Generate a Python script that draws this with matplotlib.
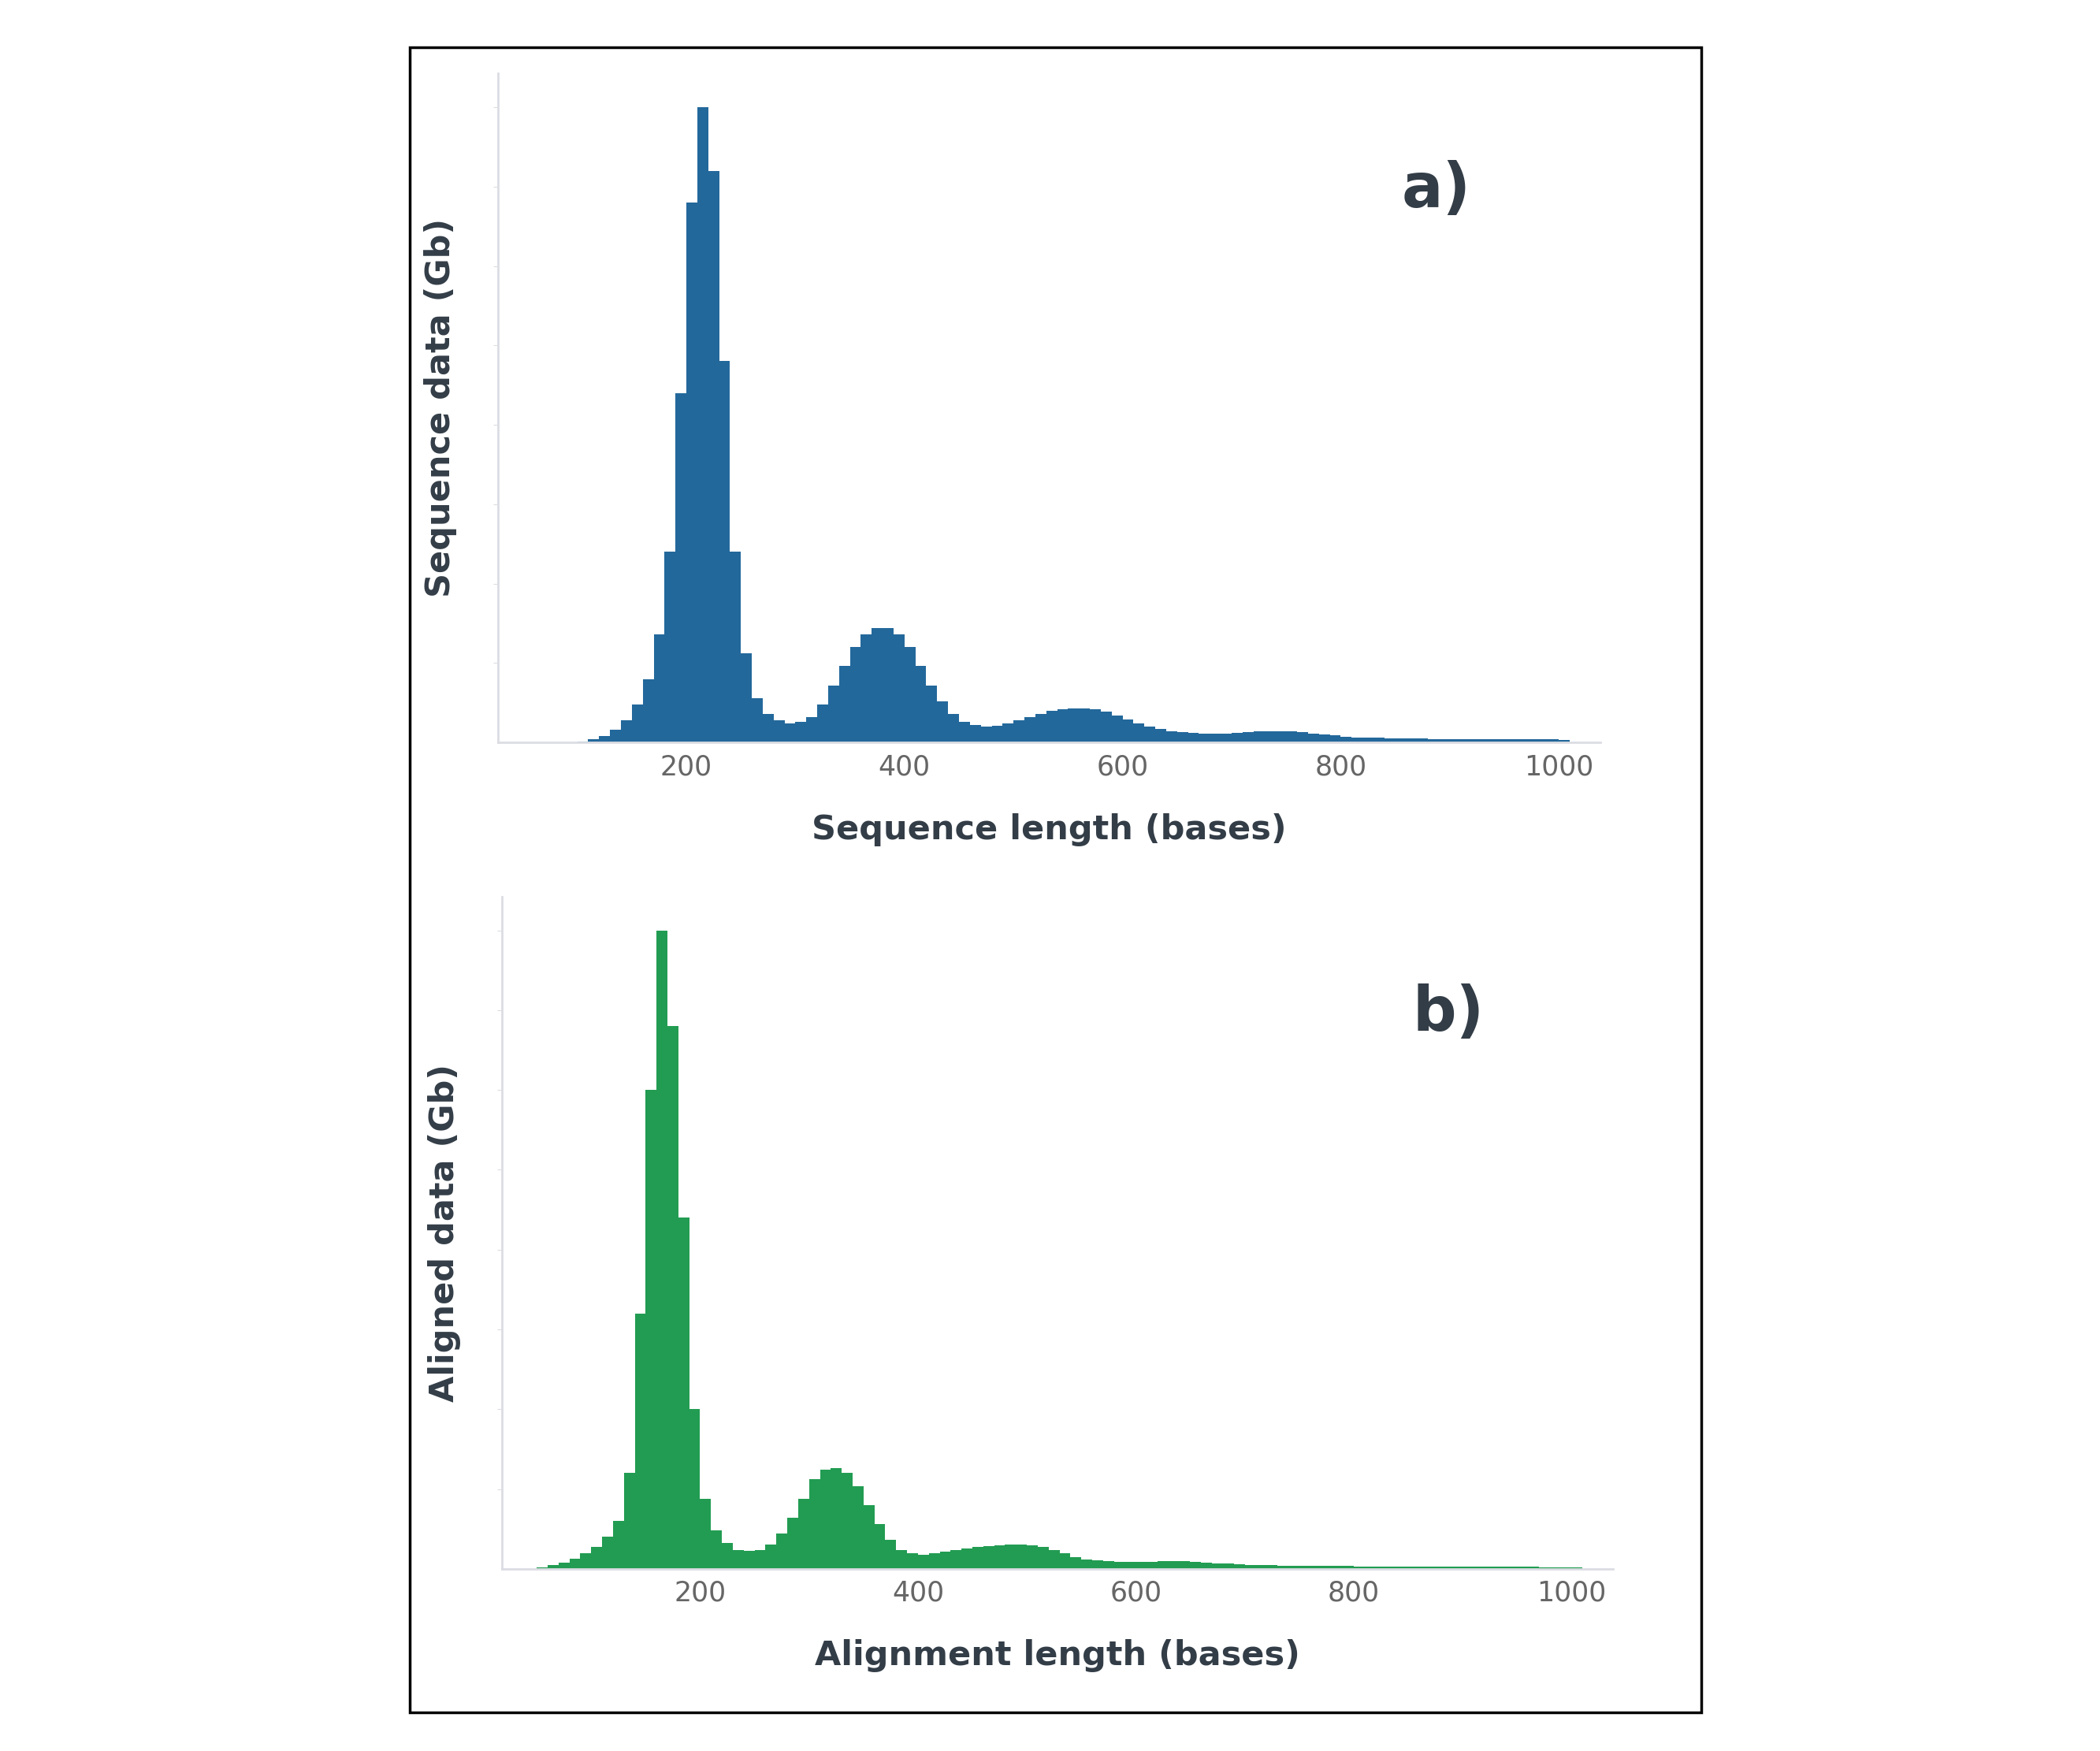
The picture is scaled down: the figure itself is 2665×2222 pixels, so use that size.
import matplotlib
matplotlib.use("Agg")
import matplotlib.pyplot as plt
import numpy as np
from matplotlib.patches import Rectangle

# Panel a: sequence length (bases), relative Gb, bins of 10 starting at 60
seq_start = 60
seq_vals = [0,0,0,0,0.002,0.005,0.01,0.02,0.035,0.06,0.10,0.17,0.30,0.55,0.85,1.0,0.9,0.6,0.3,0.14,
            0.07,0.045,0.035,0.03,0.032,0.04,0.06,0.09,0.12,0.15,0.17,0.18,0.18,0.17,0.15,0.12,0.09,0.065,0.045,0.033,
            0.027,0.025,0.026,0.03,0.035,0.04,0.045,0.05,0.052,0.053,0.053,0.052,0.048,0.042,0.036,0.03,0.025,0.021,0.018,0.016,
            0.015,0.014,0.014,0.014,0.015,0.016,0.017,0.018,0.018,0.017,0.016,0.014,0.012,0.011,0.009,0.008,0.007,0.007,0.006,0.006,
            0.006,0.006,0.005,0.005,0.005,0.005,0.005,0.005,0.005,0.005,0.005,0.005,0.005,0.005,0.004]
# Panel b: alignment length (bases), bins of 10 starting at 50
aln_start = 50
aln_vals = [0.002,0.006,0.01,0.016,0.024,0.035,0.05,0.075,0.15,0.4,0.75,1.0,0.85,0.55,0.25,0.11,0.06,0.04,0.03,0.028,
            0.03,0.038,0.055,0.08,0.11,0.14,0.155,0.158,0.15,0.13,0.1,0.07,0.045,0.03,0.024,0.022,0.024,0.027,0.03,0.032,
            0.034,0.036,0.037,0.038,0.038,0.037,0.034,0.029,0.024,0.019,0.015,0.013,0.012,0.011,0.011,0.011,0.011,0.012,0.012,0.012,
            0.011,0.01,0.009,0.008,0.007,0.006,0.006,0.006,0.005,0.005,0.005,0.005,0.005,0.005,0.005,0.004,0.004,0.004,0.004,0.004,
            0.004,0.004,0.003,0.003,0.003,0.003,0.003,0.003,0.003,0.003,0.003,0.003,0.002,0.002,0.002,0.002]
xticks = [200, 400, 600, 800, 1000]

fig = plt.figure(figsize=(26.65, 22.22), dpi=100)
fig.patches.append(Rectangle((0.195, 0.022), 0.615, 0.951, transform=fig.transFigure,
                             fill=False, edgecolor="black", linewidth=2.5))

def panel(rect, start, vals, color, xlabel, ylabel, tag, xlim):
    ax = fig.add_axes(rect)
    x = start + 10 * np.arange(len(vals))
    v = np.array(vals)
    ax.fill_between(np.append(x, x[-1] + 10), np.append(v, v[-1]), step="post", color=color, linewidth=0)
    ax.set_xlim(*xlim)
    ax.set_ylim(0, 1.053)
    ax.set_xticks(xticks)
    ax.set_yticks(np.linspace(0, 1.0, 9)[1:])
    ax.set_yticklabels([])
    for s in ["top", "right"]:
        ax.spines[s].set_visible(False)
    for s in ["left", "bottom"]:
        ax.spines[s].set_color("#dcdde3")
        ax.spines[s].set_linewidth(2)
    ax.tick_params(axis="x", length=0, labelsize=25, colors="#666666", pad=10)
    ax.tick_params(axis="y", length=4, color="#dcdde3")
    ax.set_xlabel(xlabel, fontsize=31, fontweight="bold", color="#333d47", labelpad=30)
    ax.set_ylabel(ylabel, fontsize=31, fontweight="bold", color="#333d47", labelpad=30)
    ax.text(0.82, 0.80, tag, transform=ax.transAxes, fontsize=56, fontweight="bold", color="#333d47")
    return ax

panel([0.237, 0.576, 0.525, 0.382], seq_start, seq_vals, "#23689b",
      "Sequence length (bases)", "Sequence data (Gb)", "a)", (27, 1038))
panel([0.239, 0.104, 0.529, 0.384], aln_start, aln_vals, "#229c52",
      "Alignment length (bases)", "Aligned data (Gb)", "b)", (18, 1038))

fig.savefig("out.png", dpi=100)
